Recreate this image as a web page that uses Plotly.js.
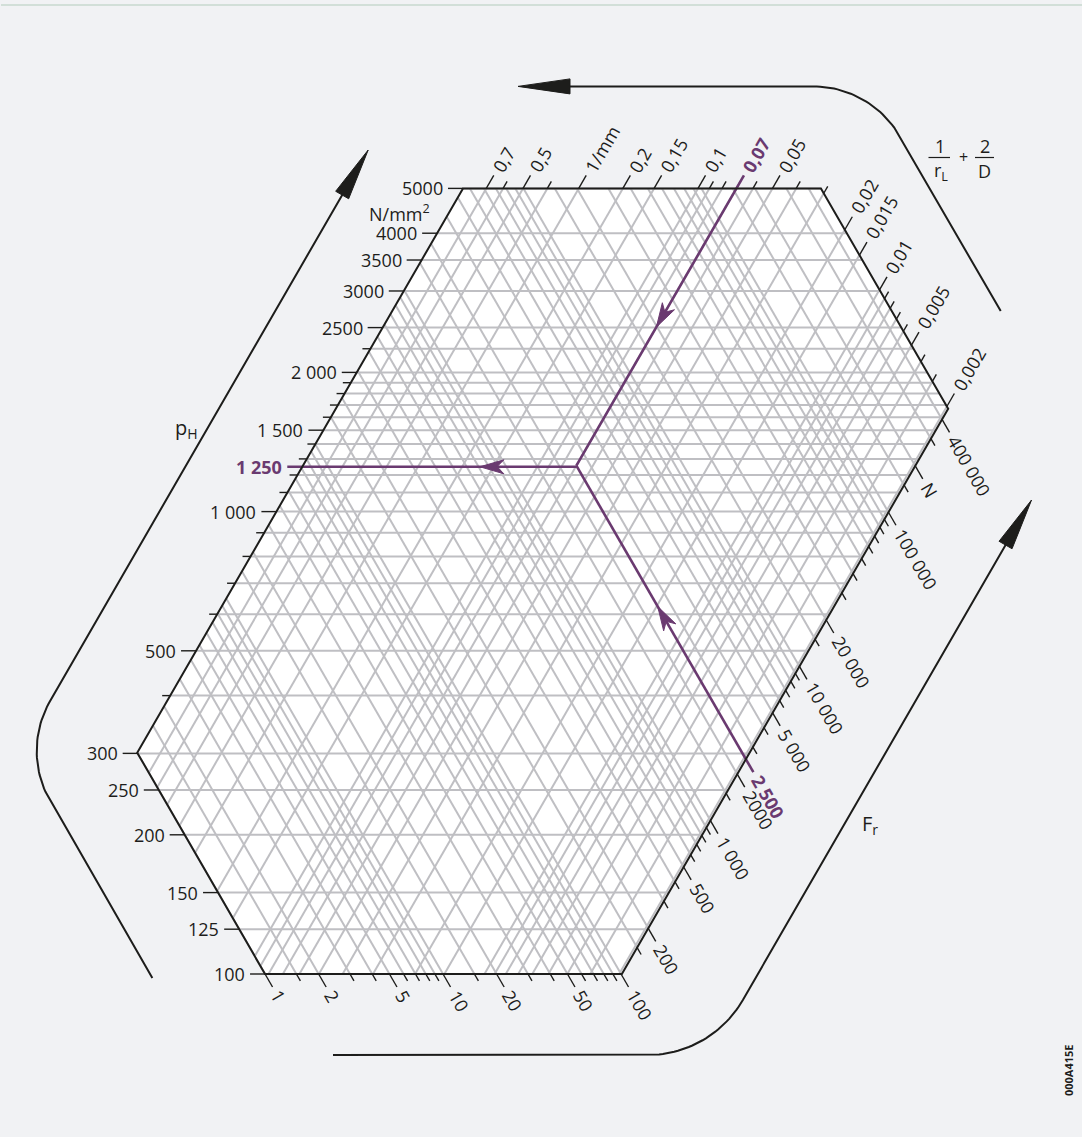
<!DOCTYPE html>
<html>
<head>
<meta charset="utf-8">
<script src="https://cdn.plot.ly/plotly-3.0.1.min.js"></script>
<style>html,body{margin:0;padding:0;background:#f1f2f4;overflow:hidden}</style>
</head>
<body>
<div id="chart" style="width:1082px;height:1137px"></div>
<script>
// ================= DATA =================
// Hertzian pressure p_H (N/mm²) – horizontal lines
const pTickValues  = [100,125,150,200,250,300,400,500,600,700,800,900,1000,1100,1200,1300,1400,1500,1600,1700,1800,1900,2000,2250,2500,3000,3500,4000,5000];
const pLabelValues = [100,125,150,200,250,300,500,1000,1500,2000,2500,3000,3500,4000,5000];
const pLabelTexts  = ["100","125","150","200","250","300","500","1 000","1 500","2 000","2500","3000","3500","4000","5000"];

// curvature sum 1/rL + 2/D (1/mm) – "/" lines
const sTickValues  = [0.7,0.6,0.5,0.4,0.3,0.2,0.15,0.1,0.09,0.08,0.07,0.06,0.05,0.04,0.03,0.02,0.015,0.01,0.009,0.008,0.007,0.006,0.005,0.004,0.003,0.002];
const sLabelValues = [0.7,0.5,0.3,0.2,0.15,0.1,0.05,0.02,0.015,0.01,0.005,0.002];
const sLabelTexts  = ["0,7","0,5","1/mm","0,2","0,15","0,1","0,05","0,02","0,015","0,01","0,005","0,002"];

// radial load F_r (N) – "\" lines
const fTickValues  = [1,1.5,2,3,4,5,6,7,8,9,10,15,20,30,40,50,60,70,80,90,100,150,200,300,400,500,600,700,800,900,1000,1500,2000,3000,4000,5000,6000,7000,8000,9000,10000,15000,20000,30000,40000,50000,60000,70000,80000,90000,100000,150000,200000,300000,400000];
const fLabelValues = [1,2,5,10,20,50,100,200,500,1000,2000,5000,10000,20000,100000,200000,400000];
const fLabelTexts  = ["1","2","5","10","20","50","100","200","500","1 000","2000","5 000","10 000","20 000","100 000","N","400 000"];

// scale extents (the hexagon is the common domain of the three scales)
const pRange = [100, 5000];
const sRange = [0.00192, 0.866];
const fRange = [1, 469000];

// worked example
const exampleF = 2500, exampleFText = "2 500";
const exampleS = 0.07, exampleSText = "0,07";
const exampleP = 1250, examplePText = "1 250";

// ================= SCALES (nomogram geometry) =================
const SQ3 = Math.sqrt(3);
const P_Y100 = 974, P_PXDEC = 462.4;            // horizontal family
const F_C1 = -297.3, F_PXDEC = 178;              // "\" family, c' = x - y/sqrt3
const S_A = 556.2, S_PXDEC = 252, S_SHIFT = 0.0013; // "/" family, c = x + y/sqrt3
const yOfP = p => P_Y100 - P_PXDEC*Math.log10(p/100);
const kOfF = f => F_C1 + F_PXDEC*Math.log10(f);
const cOfS = s => S_A - S_PXDEC*Math.log10(s + S_SHIFT);

const yTop = yOfP(pRange[1]), yBot = yOfP(pRange[0]);
const cLo = cOfS(sRange[1]), cHi = cOfS(sRange[0]);
const kLo = kOfF(fRange[0]), kHi = kOfF(fRange[1]);

function hSeg(y){ return [[Math.max(cLo - y/SQ3, kLo + y/SQ3), y],[Math.min(cHi - y/SQ3, kHi + y/SQ3), y]]; }
function sSeg(c){ const y1=Math.max(yTop,(c-kHi)*SQ3/2), y2=Math.min(yBot,(c-kLo)*SQ3/2); return [[c-y1/SQ3,y1],[c-y2/SQ3,y2]]; }
function fSeg(k){ const y1=Math.max(yTop,(cLo-k)*SQ3/2), y2=Math.min(yBot,(cHi-k)*SQ3/2); return [[k+y1/SQ3,y1],[k+y2/SQ3,y2]]; }

const add=(a,b)=>[a[0]+b[0],a[1]+b[1]], sub=(a,b)=>[a[0]-b[0],a[1]-b[1]], mul=(a,t)=>[a[0]*t,a[1]*t];
const dot=(a,b)=>a[0]*b[0]+a[1]*b[1], norm=a=>{const l=Math.hypot(a[0],a[1]);return [a[0]/l,a[1]/l];};
const DIR_S = [0.5,-SQ3/2];   // up-right
const DIR_F = [0.5, SQ3/2];   // down-right
const LONG = 15, SHORT = 8;

const GRID = '#bfbfc3', INK = '#1d1d1b', PURPLE = '#6a3a70';
const FONT = '"Open Sans", "Noto Sans", sans-serif', FS = 18, TH = 24;

function segTrace(segs, color, width){
  const x=[],y=[];
  segs.forEach(s=>{ x.push(s[0][0],s[1][0],null); y.push(s[0][1],s[1][1],null); });
  return {type:'scatter',mode:'lines',x,y,line:{color,width},hoverinfo:'skip',showlegend:false};
}
function polyTrace(pts,color,width){
  return {type:'scatter',mode:'lines',x:pts.map(p=>p[0]),y:pts.map(p=>p[1]),line:{color,width},hoverinfo:'skip',showlegend:false};
}

const traces = [];
// grid
traces.push(segTrace(pTickValues.map(v=>hSeg(yOfP(v))), GRID, 2));
traces.push(segTrace(sTickValues.map(v=>sSeg(cOfS(v))), GRID, 2));
traces.push(segTrace(fTickValues.map(v=>fSeg(kOfF(v))), GRID, 2));

// ticks
const tickSegs = [];
pTickValues.forEach(v=>{ const l=hSeg(yOfP(v))[0]; const len=pLabelValues.includes(v)?LONG:SHORT; tickSegs.push([[l[0]-len,l[1]],l]); });
sTickValues.forEach(v=>{ const t=sSeg(cOfS(v))[0]; const len=sLabelValues.includes(v)?LONG:SHORT; tickSegs.push([t,add(t,mul(DIR_S,len))]); });
fTickValues.forEach(v=>{ const b=fSeg(kOfF(v))[1]; const len=fLabelValues.includes(v)?LONG:SHORT; tickSegs.push([b,add(b,mul(DIR_F,len))]); });
traces.push(segTrace(tickSegs, INK, 1.4));

// worked example (purple)
const cEx = cOfS(exampleS), kEx = kOfF(exampleF), yEx = yOfP(exampleP);
const center = [(cEx+kEx)/2, (cEx-kEx)*SQ3/2];
const sEdge = sSeg(cEx)[0], fEdge = fSeg(kEx)[1], pEdge = hSeg(yEx)[0];
traces.push(polyTrace([add(sEdge,mul(DIR_S,LONG)), center], PURPLE, 2.6));
traces.push(polyTrace([add(fEdge,mul(DIR_F,LONG)), center], PURPLE, 2.6));
traces.push(polyTrace([[center[0],yEx],[pEdge[0]-LONG,yEx]], PURPLE, 2.6));

// shapes
const shapes = [];
function pathOf(pts, close){ return 'M '+pts.map(p=>p[0].toFixed(2)+','+p[1].toFixed(2)).join(' L ')+(close?' Z':''); }
const hex = [[cLo - yTop/SQ3, yTop],[kHi + yTop/SQ3, yTop],[(cHi+kHi)/2,(cHi-kHi)*SQ3/2],[cHi - yBot/SQ3, yBot],[kLo + yBot/SQ3, yBot],[(cLo+kLo)/2,(cLo-kLo)*SQ3/2]];
shapes.push({type:'path',path:pathOf(hex,true),fillcolor:'#ffffff',line:{width:0},layer:'below'});
shapes.push({type:'path',path:pathOf(hex,true),fillcolor:'rgba(0,0,0,0)',line:{color:INK,width:2},layer:'above'});

function notchedHead(tip, d, L, W, notch, color){
  const n=[-d[1],d[0]];
  const pts=[tip, add(sub(tip,mul(d,L)),mul(n,W)), sub(tip,mul(d,L-notch)), sub(sub(tip,mul(d,L)),mul(n,W))];
  shapes.push({type:'path',path:pathOf(pts,true),fillcolor:color,line:{color:color,width:1},layer:'above'});
}
function solidHead(tip, d, L, W, color){
  const n=[-d[1],d[0]];
  const pts=[tip, add(sub(tip,mul(d,L)),mul(n,W)), sub(sub(tip,mul(d,L)),mul(n,W))];
  shapes.push({type:'path',path:pathOf(pts,true),fillcolor:color,line:{color:color,width:1},layer:'above'});
}
// purple arrowheads pointing along the reading path
notchedHead(add(sEdge, mul(sub(center,sEdge),0.5)), norm(sub(center,sEdge)), 24, 7, 7, PURPLE);
notchedHead(add(fEdge, mul(sub(center,fEdge),0.52)), norm(sub(center,fEdge)), 24, 7, 7, PURPLE);
notchedHead([center[0] - 0.352*(center[0]-pEdge[0]), yEx], [-1,0], 24, 7, 7, PURPLE);

// outer guide arrows (rounded corners)
const Hline=y=>({a:0,b:1,v:y}), Sline=c=>({a:1,b:1/SQ3,v:c}), Fline=k=>({a:1,b:-1/SQ3,v:k});
function meet(l1,l2){ const det=l1.a*l2.b-l2.a*l1.b; return [(l1.v*l2.b-l2.v*l1.b)/det,(l1.a*l2.v-l2.a*l1.v)/det]; }
const atY=(l,y)=>[(l.v-l.b*y)/l.a,y], atX=(l,x)=>[x,(l.v-l.a*x)/l.b];
function rounded(p0, corner, p1, r){
  const u1=norm(sub(p0,corner)), u2=norm(sub(p1,corner));
  const ang=Math.acos(dot(u1,u2));
  const t=r/Math.tan(ang/2);
  const t1=add(corner,mul(u1,t)), t2=add(corner,mul(u2,t));
  const ctr=add(corner,mul(norm(add(u1,u2)), r/Math.sin(ang/2)));
  const a1=Math.atan2(t1[1]-ctr[1],t1[0]-ctr[0]); let d=Math.atan2(t2[1]-ctr[1],t2[0]-ctr[0])-a1;
  while(d>Math.PI)d-=2*Math.PI; while(d<-Math.PI)d+=2*Math.PI;
  const pts=[p0,t1]; const n=30;
  for(let i=1;i<n;i++){ const a=a1+d*i/n; pts.push([ctr[0]+r*Math.cos(a),ctr[1]+r*Math.sin(a)]); }
  pts.push(t2);
  const dir=norm(sub(p1,corner));
  pts.push(sub(p1,mul(dir,30)));
  traces.push(polyTrace(pts, INK, 2));
  solidHead(p1, dir, 52, 7.5, INK);
}
{ const lo=Fline(kLo-115), up=Sline(cLo-117); rounded(atY(lo,978), meet(lo,up), atY(up,150), 100); }
{ const rt=Fline(kHi+109), tp=Hline(yTop-102); rounded(atY(rt,311), meet(rt,tp), atX(tp,518), 100); }
{ const bt=Hline(yBot+81), rr=Sline(cHi+136); rounded(atX(bt,333), meet(bt,rr), atY(rr,500), 110); }

// frame line at top
shapes.push({type:'line',x0:1,x1:1082,y0:5,y1:5,line:{color:'#b3cbbb',width:1.2},layer:'above'});

// annotations
const ann=[];
function addText(x,y,text,o){ ann.push(Object.assign({x,y,xref:'x',yref:'y',text,showarrow:false,borderpad:0,font:{family:FONT,size:FS,color:INK}},o||{})); }

pLabelValues.forEach((v,i)=>{ const y=yOfP(v), l=hSeg(y)[0]; addText(l[0]-LONG-4,y,pLabelTexts[i],{xanchor:'right',yanchor:'middle'}); });
sLabelValues.forEach((v,i)=>{ const t=sSeg(cOfS(v))[0], P=add(t,mul(DIR_S,LONG+4)); addText(P[0],P[1],sLabelTexts[i],{textangle:-60,xanchor:'left',yanchor:'bottom',xshift:-0.433*TH,yshift:-0.25*TH}); });
fLabelValues.forEach((v,i)=>{ const b=fSeg(kOfF(v))[1], P=add(b,mul(DIR_F,LONG+4)); addText(P[0],P[1],fLabelTexts[i],{textangle:60,xanchor:'left',yanchor:'top',xshift:-0.433*TH,yshift:0.25*TH}); });

// example labels
const bold={family:FONT,size:FS,color:PURPLE,weight:'bold'};
addText(pEdge[0]-LONG-4, yEx, examplePText, {xanchor:'right',yanchor:'middle',font:bold});
{ const P=add(sEdge,mul(DIR_S,LONG+4)); addText(P[0],P[1],exampleSText,{textangle:-60,xanchor:'left',yanchor:'bottom',xshift:-0.433*TH,yshift:-0.25*TH,font:bold}); }
{ const P=add(fEdge,mul(DIR_F,LONG+4)); addText(P[0],P[1],exampleFText,{textangle:60,xanchor:'left',yanchor:'top',xshift:-0.433*TH,yshift:0.25*TH,font:bold}); }

// unit & titles
addText(hex[0][0]-32, yTop+25, 'N/mm<sup>2</sup>', {xanchor:'right',yanchor:'middle'});
addText(186, 428, 'p<sub>H</sub>', {xanchor:'center',yanchor:'middle',font:{family:FONT,size:20,color:INK}});
addText(870, 824, 'F<sub>r</sub>', {xanchor:'center',yanchor:'middle',font:{family:FONT,size:20,color:INK}});
addText(939.5, 146, '1', {xanchor:'center',yanchor:'middle'});
addText(941, 171, 'r<sub>L</sub>', {xanchor:'center',yanchor:'middle'});
addText(963, 157, '+', {xanchor:'center',yanchor:'middle',font:{family:FONT,size:16,color:INK}});
addText(984.5, 146, '2', {xanchor:'center',yanchor:'middle'});
addText(984.5, 171, 'D', {xanchor:'center',yanchor:'middle'});
shapes.push({type:'line',x0:928.5,x1:950,y0:157.5,y1:157.5,line:{color:INK,width:1.2},layer:'above'});
shapes.push({type:'line',x0:975,x1:994,y0:157.5,y1:157.5,line:{color:INK,width:1.2},layer:'above'});
addText(1068, 1070, '000A415E', {xanchor:'center',yanchor:'middle',textangle:-90,font:{family:FONT,size:11,color:INK,weight:'bold'}});

const layout = {
  width:1082, height:1137, autosize:false,
  margin:{l:0,r:0,t:0,b:0,pad:0},
  paper_bgcolor:'#f1f2f4', plot_bgcolor:'#f1f2f4',
  xaxis:{range:[0,1082],visible:false,fixedrange:true},
  yaxis:{range:[1137,0],visible:false,fixedrange:true},
  showlegend:false, shapes, annotations:ann
};
Plotly.newPlot('chart', traces, layout, {staticPlot:true, displayModeBar:false});
</script>
</body>
</html>
